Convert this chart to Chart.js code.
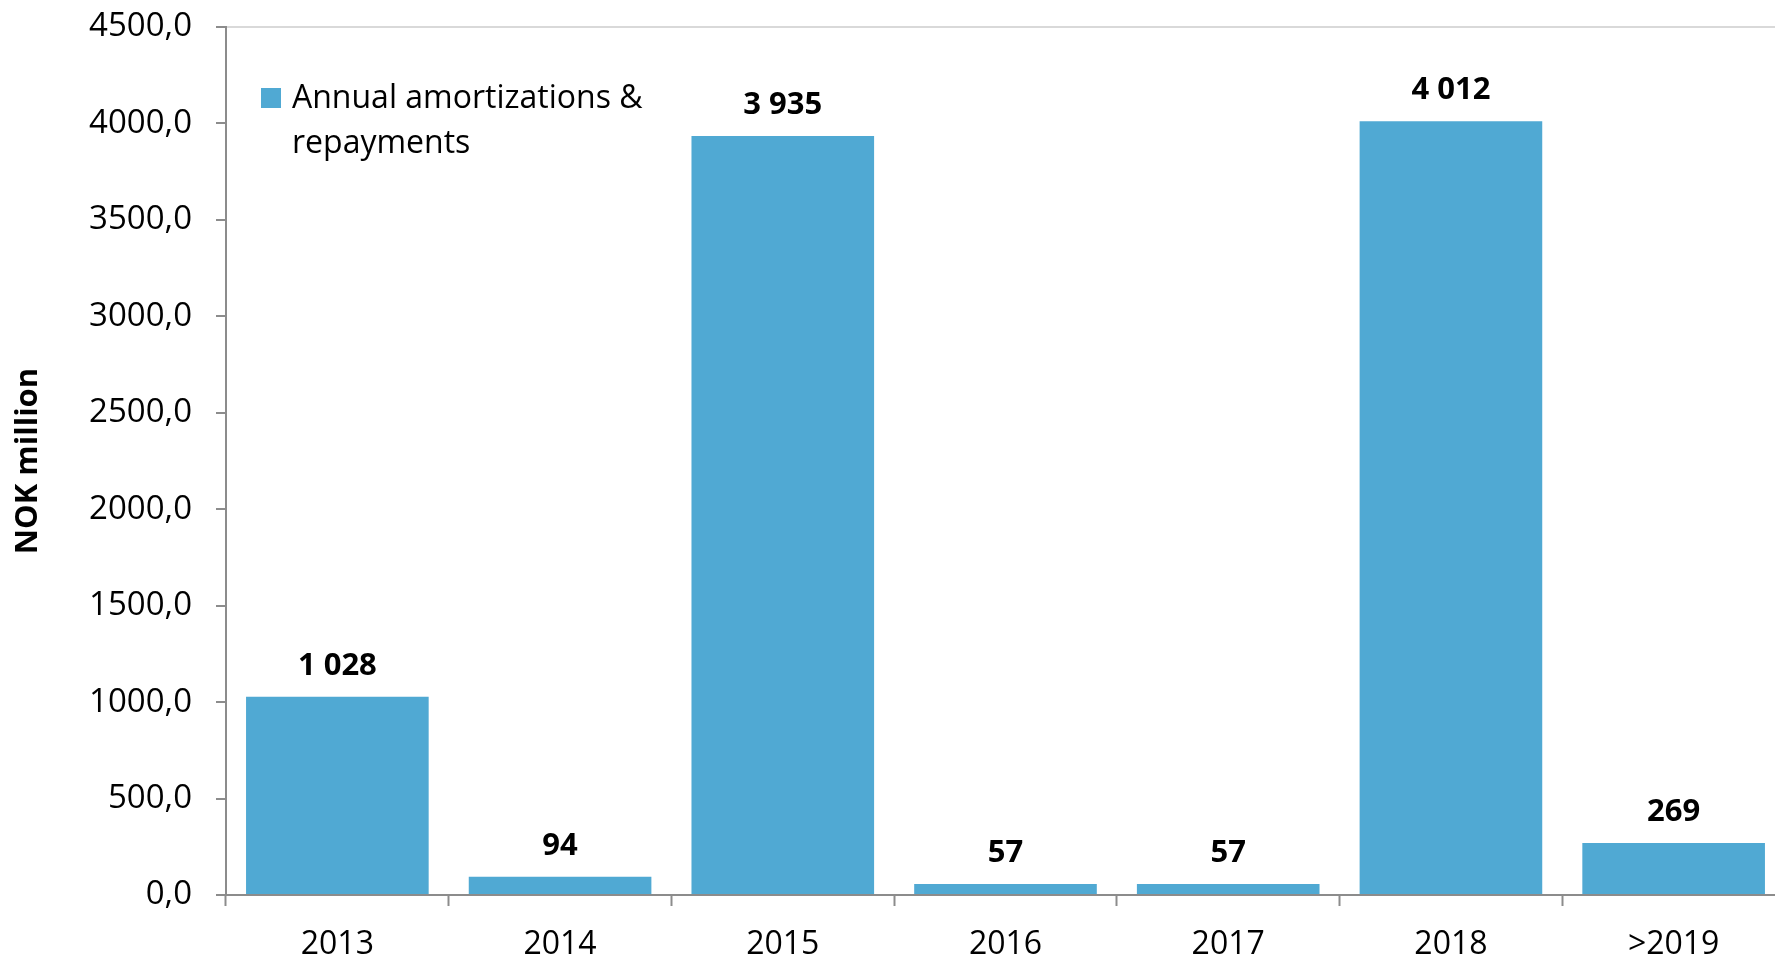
<!DOCTYPE html>
<html>
<head>
<meta charset="utf-8">
<script src="https://cdn.jsdelivr.net/npm/chart.js@4.4.1/dist/chart.umd.min.js"></script>
<style>
  html, body { margin: 0; padding: 0; background: #ffffff; overflow: hidden; }
  #wrap { position: relative; width: 1790px; height: 959px; }
</style>
</head>
<body>
<div id="wrap"><canvas id="c"></canvas></div>
<script>
// ---- data ----
const categories = ['2013', '2014', '2015', '2016', '2017', '2018', '>2019'];
const amortizations = [1028, 94, 3935, 57, 57, 4012, 269];
const seriesLabelLines = ['Annual amortizations &', 'repayments'];
const yAxisTitle = 'NOK million';
const yMin = 0, yMax = 4500, yStep = 500;

const FONT = '"Open Sans", "DejaVu Sans", sans-serif';
const BAR_COLOR = '#50A9D3';
const AXIS_COLOR = '#8c8c8c';

function fmtThousands(v) {
  return String(v).replace(/\B(?=(\d{3})+(?!\d))/g, ' ');
}
function fmtTick(v) {
  return Number(v).toFixed(1).replace('.', ',');
}

const valueLabels = {
  id: 'valueLabels',
  afterDatasetsDraw(chart) {
    const ctx = chart.ctx;
    const meta = chart.getDatasetMeta(0);
    ctx.save();
    ctx.font = 'bold 31px ' + FONT;
    ctx.fillStyle = '#000000';
    ctx.textAlign = 'center';
    ctx.textBaseline = 'middle';
    meta.data.forEach((bar, i) => {
      const v = chart.data.datasets[0].data[i];
      ctx.fillText(fmtThousands(v), bar.x, bar.y - 31);
    });
    ctx.restore();
  }
};

const customLegend = {
  id: 'customLegend',
  afterDraw(chart) {
    const ctx = chart.ctx;
    const ds = chart.data.datasets[0];
    ctx.save();
    ctx.fillStyle = ds.backgroundColor;
    ctx.fillRect(261, 88, 20, 20);
    ctx.fillStyle = '#000000';
    ctx.font = '32px ' + FONT;
    ctx.textAlign = 'left';
    ctx.textBaseline = 'middle';
    seriesLabelLines.forEach((line, i) => {
      ctx.fillText(line, 292, 99 + i * 45);
    });
    ctx.restore();
  }
};

new Chart(document.getElementById('c'), {
  type: 'bar',
  data: {
    labels: categories,
    datasets: [{
      label: seriesLabelLines.join(' '),
      data: amortizations,
      backgroundColor: BAR_COLOR,
      borderWidth: 0,
      barPercentage: 0.82,
      categoryPercentage: 1.0
    }]
  },
  options: {
    responsive: true,
    maintainAspectRatio: false,
    animation: false,
    layout: { padding: { top: 27, right: 5, bottom: 0, left: 0 } },
    plugins: {
      legend: { display: false },
      tooltip: { enabled: false }
    },
    scales: {
      x: {
        offset: true,
        grid: {
          offset: true,
          drawOnChartArea: false,
          drawTicks: true,
          tickLength: 11,
          tickColor: AXIS_COLOR,
          tickWidth: 2
        },
        border: { color: AXIS_COLOR, width: 2 },
        ticks: {
          color: '#000000',
          font: { family: FONT, size: 32 },
          padding: 20,
          maxRotation: 0,
          autoSkip: false
        },
        afterFit(scale) {
          scale.height = 64;
          scale.paddingLeft = 0;
          scale.paddingRight = 0;
        }
      },
      y: {
        min: yMin,
        max: yMax,
        ticks: {
          stepSize: yStep,
          color: '#000000',
          font: { family: FONT, size: 33 },
          padding: 24,
          callback: (v) => fmtTick(v)
        },
        grid: {
          drawTicks: true,
          tickLength: 10,
          tickColor: AXIS_COLOR,
          tickWidth: 2,
          lineWidth: 2,
          color: (c) => (c.tick && c.tick.value === yMax) ? '#d9d9d9' : 'rgba(0,0,0,0)'
        },
        border: { color: AXIS_COLOR, width: 2 },
        title: {
          display: true,
          text: yAxisTitle,
          color: '#000000',
          font: { family: FONT, size: 31, weight: 'bold' },
          padding: { top: 10, bottom: 0 }
        },
        afterFit(scale) {
          scale.width = 226;
          scale.paddingTop = 0;
          scale.paddingBottom = 0;
        }
      }
    }
  },
  plugins: [valueLabels, customLegend]
});
</script>
</body>
</html>
